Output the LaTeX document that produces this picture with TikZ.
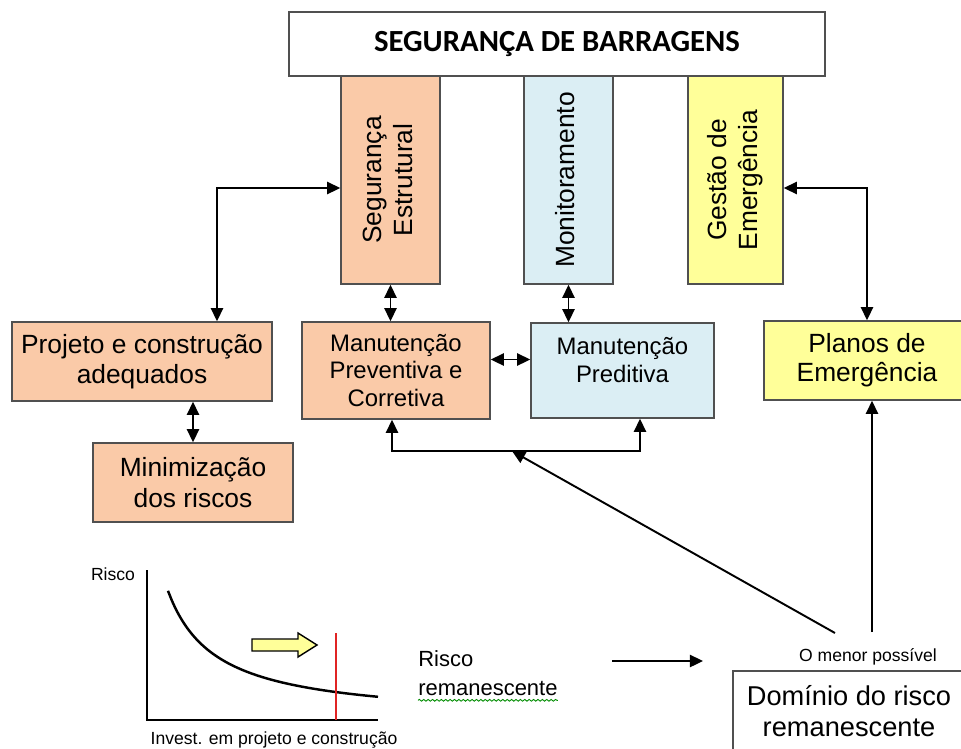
\documentclass[tikz,border=0pt]{standalone}
\usepackage{graphicx}
\usepackage{fontspec}
\setmainfont{Liberation Sans}
\newfontfamily\titlefont{Carlito}
\usetikzlibrary{arrows.meta,decorations.pathmorphing}

\definecolor{laranja}{HTML}{FACAA8}
\definecolor{azul}{HTML}{DBEEF4}
\definecolor{amarelo}{HTML}{FFFF99}
\definecolor{borda}{HTML}{505050}
\definecolor{vermelho}{HTML}{E02424}

\newcommand{\fs}[2]{\fontsize{#1}{#2}\selectfont}
\newcommand{\vtexto}[1]{\rotatebox{90}{\begin{tabular}{@{}c@{}}#1\end{tabular}}}

\begin{document}
\begin{tikzpicture}[x=0.02cm,y=-0.02cm,
	>={Triangle[length=7.5pt,width=7pt]},
	caixa/.style={draw=borda,line width=0.9pt,inner sep=0pt,align=center,font=\fs{15}{17}},
	texto/.style={inner sep=0pt,align=center},
	seta/.style={line width=1.1pt}]
	\useasboundingbox (0,0) rectangle (961,748);

	% colunas
	\node[caixa,fill=laranja,minimum width=1.98cm,minimum height=4.16cm,font=\fs{15}{18}] (segest) at (390.5,180) {\vtexto{Segurança\\Estrutural}};
	\node[caixa,fill=azul,minimum width=1.78cm,minimum height=4.16cm] (monit) at (568.5,180) {\vtexto{Monitoramento}};
	\node[caixa,fill=amarelo,minimum width=1.9cm,minimum height=4.16cm,font=\fs{15}{18}] (gestao) at (735.5,180) {\vtexto{Gestão de\\Emergência}};
	\node[caixa,fill=white,minimum width=10.72cm,minimum height=1.28cm,font=\titlefont\bfseries\fs{17.5}{20}] (titulo) at (557,44) {SEGURANÇA DE BARRAGENS};

	% caixas
	\node[caixa,fill=laranja,minimum width=5.2cm,minimum height=1.58cm] (projeto) at (142,361.5) {Projeto e construção\\adequados};
	\node[caixa,fill=laranja,minimum width=4cm,minimum height=1.58cm,font=\fs{15}{17.6}] (minim) at (193,482.5) {Minimização\\dos riscos};
	\node[caixa,fill=laranja,minimum width=3.76cm,minimum height=1.94cm,font=\fs{13.6}{15.6}] (manprev) at (396,370.5) {Manutenção\\Preventiva e\\Corretiva};
	\node[caixa,fill=azul,minimum width=3.66cm,minimum height=1.9cm] (manpred) at (622.5,370.5) {};
	\node[texto,font=\fs{13.6}{15.6}] (manpredtxt) at (622.5,360) {Manutenção\\Preditiva};
	\node[caixa,fill=amarelo,minimum width=4.12cm,minimum height=1.58cm,font=\fs{15}{16.5}] (planos) at (867,360.5) {Planos de\\Emergência};
	\node[caixa,minimum width=4.64cm,minimum height=1.6cm,font=\fs{15.5}{18}] (dominio) at (849,711) {Domínio do risco\\remanescente};

	\node[texto,font=\fs{10}{12}] (menor) at (868,657) {O menor possível};
	\node[texto,anchor=west,align=left,font=\fs{12.5}{16.5}] (risco) at (418,673) {Risco\\remanescente};
	\draw[green!55!black,line width=0.5pt,decorate,decoration={snake,amplitude=0.5pt,segment length=2.5pt}]
		([yshift=-2.5pt]risco.south west) -- ([yshift=-2.5pt]risco.south east);

	% ligacoes
	\coordinate (c1) at (217,188);
	\coordinate (c3) at (868,188);
	\coordinate (b1) at (392,451);
	\coordinate (b2) at (640,451);
	\coordinate (b3) at (512,451);
	\coordinate (d1) at (835,633);
	\coordinate (d2) at (872,632);
	\coordinate (r1) at (612,661);
	\coordinate (r2) at (703,661);

	\draw[seta,<->] (projeto.north -| c1) |- (segest.west |- c1);
	\draw[seta,<->] (segest.south) -- (segest.south |- manprev.north);
	\draw[seta,<->] (monit.south) -- (monit.south |- manpred.north);
	\draw[seta,<->] ([yshift=0.22cm]manprev.east) -- ([yshift=0.22cm]manpred.west);
	\draw[seta,<->] (minim.north) -- (minim.north |- projeto.south);
	\draw[seta,<->] (gestao.east |- c3) -| (planos.north);
	\draw[seta,<->] (manprev.south -| b1) -- (b1) -- (b2) -- (manpred.south -| b2);
	\draw[seta,->] (d1) -- (b3);
	\draw[seta,->] (d2) -- (planos.south -| d2);
	\draw[seta,->] (r1) -- (r2);

	% grafico
	\node[texto,font=\fs{10}{12}] (eixoy) at (113,574) {Risco};
	\node[texto,font=\fs{10}{12}] (eixox) at (274,740) {Invest. em projeto e construção};
	\draw[line width=1.1pt] (147,570) -- (147,720) -- (378,720);
	\draw[line width=1.4pt] plot[domain=168:378,samples=60,smooth] (\x,{721-6250/(\x-120)});
	\draw[vermelho,line width=1.2pt] (336,633) -- (336,720);
	\draw[fill=amarelo,line width=0.8pt] (252,639) -- (298,639) -- (298,633) -- (317,645) -- (298,657) -- (298,651) -- (252,651) -- cycle;
\end{tikzpicture}
\end{document}
